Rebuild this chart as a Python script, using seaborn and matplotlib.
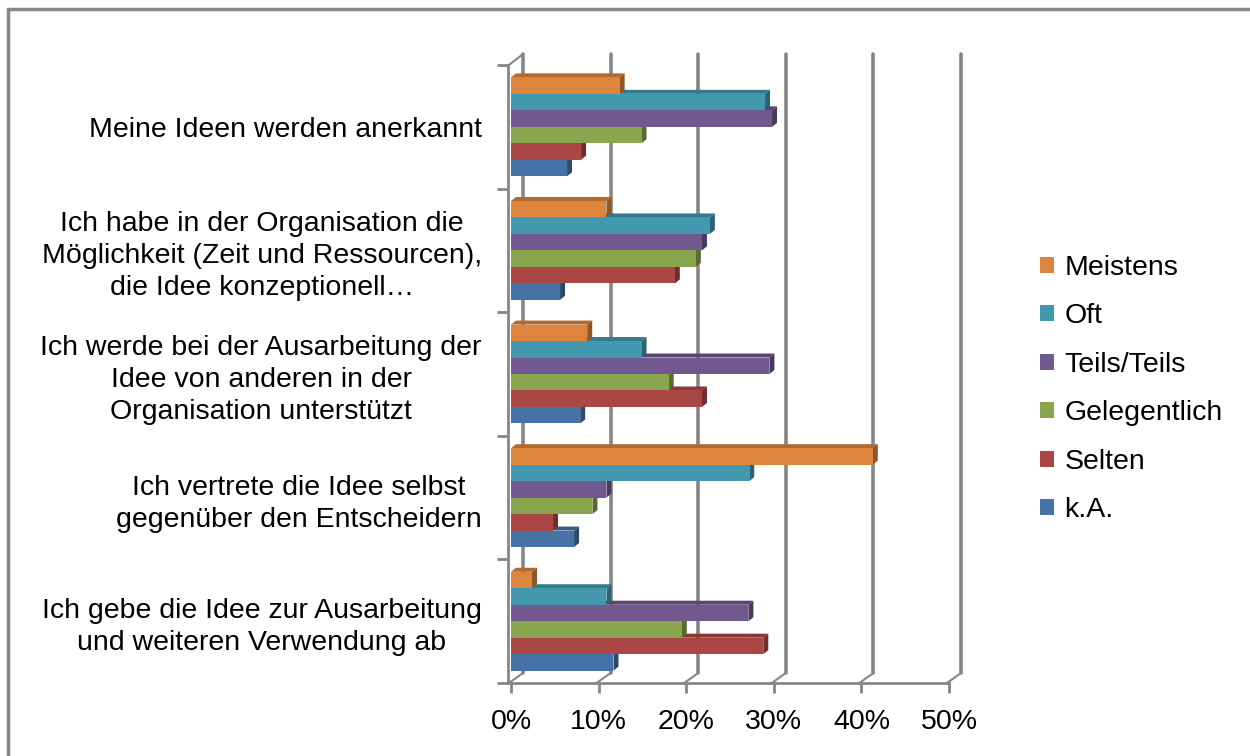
import numpy as np
import pandas as pd
import matplotlib
matplotlib.use("Agg")
import matplotlib.pyplot as plt
import matplotlib.transforms as mtransforms
from matplotlib.lines import Line2D
from matplotlib.patches import Polygon
import seaborn as sns

# --- data ---
statements = [
    "Meine Ideen werden anerkannt",
    "Ich habe in der Organisation die\nMöglichkeit (Zeit und Ressourcen),\ndie Idee konzeptionell…",
    "Ich werde bei der Ausarbeitung der\nIdee von anderen in der\nOrganisation unterstützt",
    "Ich vertrete die Idee selbst\ngegenüber den Entscheidern",
    "Ich gebe die Idee zur Ausarbeitung\nund weiteren Verwendung ab",
]
answers = ["Meistens", "Oft", "Teils/Teils", "Gelegentlich", "Selten", "k.A."]

meistens = [12.4, 10.9, 8.7, 41.3, 2.4]
oft = [29.0, 22.7, 14.9, 27.2, 10.9]
teils = [29.8, 21.8, 29.5, 10.9, 27.1]
gelegentlich = [14.9, 21.1, 18.0, 9.3, 19.5]
selten = [8.0, 18.7, 21.8, 4.8, 28.8]
ka = [6.4, 5.6, 7.9, 7.2, 11.7]

colors = ["#DD853D", "#4198AF", "#71588F", "#89A54E", "#AA4643", "#4572A7"]

rows = []
for ans, vals in zip(answers, [meistens, oft, teils, gelegentlich, selten, ka]):
    for st, v in zip(statements, vals):
        rows.append({"Aussage": st, "Antwort": ans, "Anteil": v / 100})
df = pd.DataFrame(rows)

sns.set_style("white")
plt.rcParams["font.family"] = ["Liberation Sans", "DejaVu Sans"]
plt.rcParams["text.color"] = "black"
plt.rcParams["xtick.labelcolor"] = "black"
plt.rcParams["ytick.labelcolor"] = "black"

W, H, DPI = 1250, 756, 100
fig = plt.figure(figsize=(W / DPI, H / DPI), dpi=DPI)
ax_left, ax_right, ax_top, ax_bot = 511, 949, 65, 683
ax = fig.add_axes([ax_left / W, 1 - ax_bot / H, (ax_right - ax_left) / W, (ax_bot - ax_top) / H])

sns.barplot(data=df, y="Aussage", x="Anteil", hue="Antwort", order=statements,
            hue_order=answers, palette=colors, orient="h", width=0.8,
            saturation=1, ax=ax, zorder=3, linewidth=0, legend=True)

ax.set_xlim(0, 0.5)
ax.set_ylim(4.5, -0.5)
ax.set_xlabel("")
ax.set_ylabel("")

grey = "#868686"
fs = 20.5

# 3d look: top and side faces for every bar
px_x = 0.5 / (ax_right - ax_left)
px_y = 5.0 / (ax_bot - ax_top)
dx, dy = 5 * px_x, 4 * px_y
bars = [p for p in ax.patches if p.get_width() > 0]
for p in bars:
    x0, y0 = p.get_x(), p.get_y()
    x1, y1 = x0 + p.get_width(), y0 + p.get_height()
    c = np.array(matplotlib.colors.to_rgb(p.get_facecolor()))
    top = Polygon([(x0, y0), (x1, y0), (x1 + dx, y0 - dy), (x0 + dx, y0 - dy)],
                  closed=True, facecolor=c * 0.8, edgecolor="none", zorder=2)
    side = Polygon([(x1, y0), (x1, y1), (x1 + dx, y1 - dy), (x1 + dx, y0 - dy)],
                   closed=True, facecolor=c * 0.65, edgecolor="none", zorder=2.5)
    ax.add_patch(top)
    ax.add_patch(side)

# back wall gridlines (shifted for depth)
ticks = np.arange(0, 0.51, 0.1)
back = mtransforms.offset_copy(ax.get_xaxis_transform(), fig=fig, x=12, y=0, units="dots")
for t in ticks:
    ax.plot([t, t], [(ax_bot - 673) / (ax_bot - ax_top), (ax_bot - 54) / (ax_bot - ax_top)],
            color=grey, lw=2.6, transform=back, clip_on=False, zorder=1)

# floor connectors from front ticks to back wall
fig.canvas.draw()
for t in ticks:
    fx, fy = ax.transData.transform((t, 4.5))
    ax.add_artist(Line2D([fx - 2, fx + 12], [fy, fy + 10], color=grey, lw=1.5,
                         transform=mtransforms.IdentityTransform(), clip_on=False))
lx, ly = ax.transData.transform((0, -0.5))
ax.add_artist(Line2D([lx - 2, lx + 12], [ly, ly + 11], color=grey, lw=1.5,
                     transform=mtransforms.IdentityTransform(), clip_on=False))

for s in ["top", "right"]:
    ax.spines[s].set_visible(False)
for s in ["left", "bottom"]:
    ax.spines[s].set_color(grey)
    ax.spines[s].set_linewidth(2)
    ax.spines[s].set_zorder(4)
ax.spines["left"].set_position(("outward", 2))

ax.set_xticks(ticks)
ax.set_xticklabels([f"{int(round(t * 100))}%" for t in ticks], fontsize=fs)
ax.tick_params(axis="x", length=7, width=2, color=grey, pad=12, direction="out")
ax.xaxis.set_ticks_position("bottom")

ax.set_yticks(range(len(statements)))
ax.set_yticklabels(statements, fontsize=fs)
ax.set_yticks(np.arange(-0.5, 5, 1), minor=True)
ax.tick_params(axis="y", which="major", length=0, pad=19)
ax.tick_params(axis="y", which="minor", length=8, width=2, color=grey, direction="out")
ax.yaxis.set_ticks_position("left")
for lab in ax.get_yticklabels():
    lab.set_multialignment("center")
    lab.set_linespacing(1.3)
    lab.set_color("black")
for lab in ax.get_xticklabels():
    lab.set_color("black")

ax.grid(False)

# legend
handles, labels = ax.get_legend_handles_labels()
ax.legend_.remove()
leg = fig.legend(handles, labels, loc="center left", bbox_to_anchor=(1040 / W, 1 - 389 / H),
                 frameon=False, fontsize=fs, handlelength=0.5, handleheight=0.5,
                 handletextpad=0.35, labelspacing=0.79, borderpad=0, borderaxespad=0)
for txt in leg.get_texts():
    txt.set_color("black")

# outer frame
fig.add_artist(Line2D([8 / W, 8 / W], [0, 1 - 9 / H], color=grey, lw=2.5, transform=fig.transFigure))
fig.add_artist(Line2D([8 / W, 1], [1 - 9 / H, 1 - 9 / H], color=grey, lw=2.5, transform=fig.transFigure))

fig.savefig("out.png", dpi=DPI)
